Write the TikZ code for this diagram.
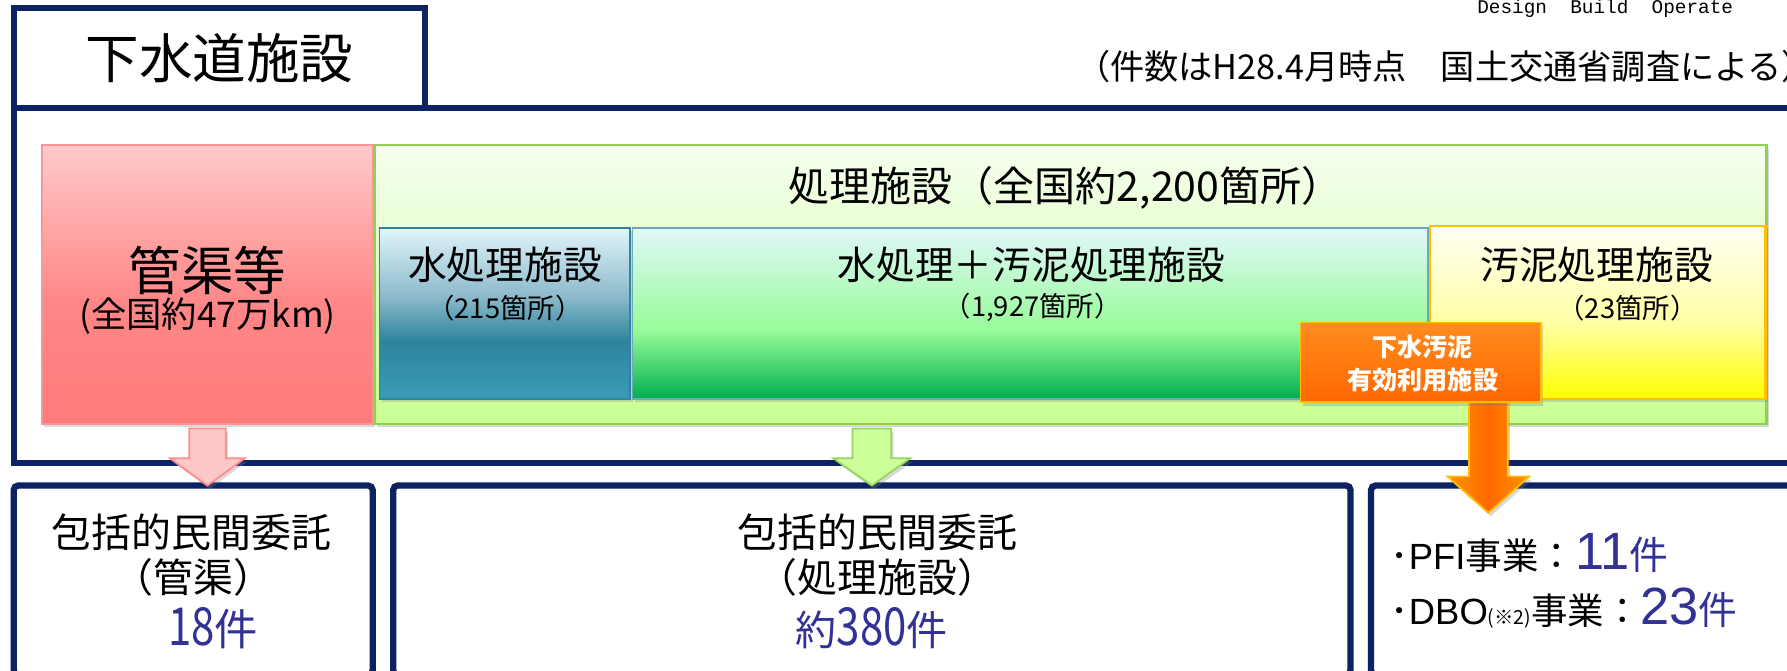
\documentclass[tikz,border=0pt]{standalone}
\usepackage{fontspec}
\setmainfont{Noto Sans CJK JP}
\newfontfamily\lat{Liberation Sans}
\newfontfamily\mono{Liberation Mono}
\usetikzlibrary{shadows,calc}
\definecolor{navy}{RGB}{12,34,98}
\definecolor{numblue}{RGB}{50,50,150}
\definecolor{pinkT}{RGB}{255,202,202}
\definecolor{pinkM}{RGB}{255,135,135}
\definecolor{pinkB}{RGB}{255,123,123}
\definecolor{pinkline}{RGB}{250,150,150}
\definecolor{lgT}{RGB}{246,255,240}
\definecolor{lgB}{RGB}{200,255,146}
\definecolor{lgline}{RGB}{146,208,80}
\definecolor{tealT}{RGB}{224,245,251}
\definecolor{tealU}{RGB}{140,186,203}
\definecolor{tealM}{RGB}{46,132,157}
\definecolor{tealB}{RGB}{58,155,184}
\definecolor{tealline}{RGB}{49,132,155}
\definecolor{grT}{RGB}{224,248,250}
\definecolor{grM}{RGB}{152,251,152}
\definecolor{grB}{RGB}{0,174,78}
\definecolor{ylT}{RGB}{255,255,245}
\definecolor{ylM}{RGB}{255,255,165}
\definecolor{ylB}{RGB}{255,255,0}
\definecolor{gold}{RGB}{255,192,0}
\definecolor{orT}{RGB}{255,140,30}
\definecolor{orB}{RGB}{255,104,0}
\definecolor{orEdge}{RGB}{255,150,0}
\definecolor{pinkArrow}{RGB}{255,200,200}
\definecolor{pinkArrowLine}{RGB}{255,140,140}
\definecolor{greenArrow}{RGB}{204,255,153}
\definecolor{greenArrowLine}{RGB}{150,212,90}
\pgfdeclareverticalshading{pinkshade}{100bp}{color(0bp)=(pinkB); color(25bp)=(pinkB); color(47bp)=(pinkM); color(75bp)=(pinkT); color(100bp)=(pinkT)}
\pgfdeclareverticalshading{tealshade}{100bp}{color(0bp)=(tealB); color(25bp)=(tealB); color(42bp)=(tealM); color(55bp)=(tealU); color(75bp)=(tealT); color(100bp)=(tealT)}
\pgfdeclareverticalshading{greenshade}{100bp}{color(0bp)=(grB); color(25bp)=(grB); color(45bp)=(grM); color(75bp)=(grT); color(100bp)=(grT)}
\pgfdeclareverticalshading{yellowshade}{100bp}{color(0bp)=(ylB); color(25bp)=(ylB); color(47bp)=(ylM); color(75bp)=(ylT); color(100bp)=(ylT)}
\tikzset{
  navybox/.style={draw=navy, line width=5.5pt, inner sep=0pt, outer sep=0pt, anchor=north west},
  roundbox/.style={navybox, rounded corners=4pt},
  panel/.style={inner sep=0pt, outer sep=0pt, anchor=north west},
  shadowed/.style={drop shadow={shadow xshift=2pt, shadow yshift=-3pt, opacity=0.3}},
  tsize/.style={font=\fontsize{#1}{#1}\selectfont, inner sep=0pt},
  blockarrow/.style={line width=1.5pt, line join=miter},
}
\newcommand{\cnum}[1]{\scalebox{0.8}[1]{\fontsize{46}{46}\selectfont #1}}
\begin{document}
\begin{tikzpicture}[x=1pt,y=-1pt]
\useasboundingbox (0,0) rectangle (1568,588);
\fill[white] (0,0) rectangle (1568,588);
\clip (0,0) rectangle (1568,588);

% header
\node[navybox, fill=white, minimum width=361pt, minimum height=87.5pt] (titlebox) at (12,7) {};
\node[tsize=47] (ttl) at (titlebox.center) {下水道施設};
\node[anchor=base west, inner sep=0pt, font=\mono\fontsize{17}{17}\selectfont] (dbo-note) at (1296,12) {Design~~Build~~Operate};
\node[anchor=west, tsize=30] (note) at (944,58) {（件数はH28.4月時点　国土交通省調査による）};

% main frame
\node[navybox, minimum width=1588pt, minimum height=312pt] (mainbox) at (12,94.5) {};

% panels
\node[panel, shade, shading=pinkshade, draw=pinkline, line width=1.5pt, shadowed, minimum width=290pt, minimum height=245pt] (kanbox) at (37,127) {};
\node[panel, top color=lgT, bottom color=lgB, draw=lgline, line width=2pt, shadowed, minimum width=1221pt, minimum height=245pt] (shori) at (329,127) {};
\node[panel, shade, shading=tealshade, draw=tealline, line width=1.5pt, shadowed, minimum width=220pt, minimum height=150pt] (mizu) at (333,200) {};
\node[panel, shade, shading=greenshade, draw=tealline!70, line width=1.5pt, shadowed, minimum width=698pt, minimum height=150pt] (mizuodei) at (555,200) {};
\node[panel, shade, shading=yellowshade, draw=gold, line width=2pt, shadowed, minimum width=294pt, minimum height=152pt] (odei) at (1255,198) {};

% panel texts
\node[tsize=46] (kan1) at (182,237) {管渠等};
\node[tsize=31] (kan2) at (182,277) {(全国約47万km)};
\node[tsize=36] (shori1) at (935,165) {処理施設（全国約2,200箇所）};
\node[tsize=34] (mizu1) at (443,232) {水処理施設};
\node[tsize=24] (mizu2) at (443,270) {（215箇所）};
\node[tsize=34] (mo1) at (905,232) {水処理＋汚泥処理施設};
\node[tsize=24] (mo2) at (906,270) {（1,927箇所）};
\node[tsize=34] (od1) at (1401,232) {汚泥処理施設};
\node[tsize=24] (od2) at (1428,270) {（23箇所）};

% bottom boxes
\node[roundbox, fill=white, minimum width=315pt, minimum height=166pt] (box1) at (12,426) {};
\node[roundbox, fill=white, minimum width=840pt, minimum height=166pt] (box2) at (345,426) {};
\node[roundbox, fill=white, minimum width=400pt, minimum height=166pt] (box3) at (1203,426) {};

% orange arrow (under the orange box)
\coordinate (oa) at ($(1352,353)+(-46,-6)$);
\path[blockarrow, left color=orEdge, right color=orEdge, middle color=orB, draw=gold, drop shadow={shadow xshift=2pt, shadow yshift=-3pt, opacity=0.3}]
  ($(oa)+(-17,0)$) -- ($(oa)+(17,0)$) -- ($(oa)+(17,71)$) -- ($(oa)+(36,71)$) -- ($(oa)+(0,103)$) -- ($(oa)+(-36,71)$) -- ($(oa)+(-17,71)$) -- cycle;

% orange box
\node[panel, top color=orT, bottom color=orB, draw=gold, line width=1.5pt, shadowed, minimum width=211pt, minimum height=70pt] (yuko) at (1141,283) {};
\node[font=\bfseries\fontsize{22}{29}\selectfont, text=white, align=center, inner sep=0pt] (yukotxt) at ($(yuko.center)+(2,1)$) {下水汚泥\\有効利用施設};

% pink and green arrows
\coordinate (pa) at (kanbox.south);
\path[blockarrow, fill=pinkArrow, draw=pinkArrowLine, drop shadow={shadow xshift=2pt, shadow yshift=-3pt, opacity=0.3}]
  ($(pa)+(-16,4)$) -- ($(pa)+(16,4)$) -- ($(pa)+(16,30)$) -- ($(pa)+(33,30)$) -- ($(pa)+(0,54)$) -- ($(pa)+(-33,30)$) -- ($(pa)+(-16,30)$) -- cycle;
\coordinate (ga) at (box2.north |- shori.south);
\path[blockarrow, fill=greenArrow, draw=greenArrowLine, drop shadow={shadow xshift=2pt, shadow yshift=-3pt, opacity=0.3}]
  ($(ga)+(-17,4)$) -- ($(ga)+(17,4)$) -- ($(ga)+(17,30)$) -- ($(ga)+(34,30)$) -- ($(ga)+(0,54)$) -- ($(ga)+(-34,30)$) -- ($(ga)+(-17,30)$) -- cycle;

% bottom texts
\node[tsize=35] (b1a) at (168,467) {包括的民間委託};
\node[tsize=35] (b1b) at (170,507) {（管渠）};
\node[inner sep=0pt, text=numblue, font=\fontsize{38}{38}\selectfont] (b1c) at (187,551) {\cnum{18}件};
\node[tsize=35] (b2a) at (770,467) {包括的民間委託};
\node[tsize=35] (b2b) at (770,507) {（処理施設）};
\node[inner sep=0pt, text=numblue, font=\fontsize{36}{36}\selectfont] (b2c) at (765,551) {約\cnum{380}件};
\node[anchor=base west, inner sep=0pt, font=\fontsize{32}{32}\selectfont] (pfi) at (1220,500)
  {･{\lat PFI}事業：\textcolor{numblue}{{\lat\fontsize{46}{46}\selectfont 11}\fontsize{34}{34}\selectfont 件}};
\node[anchor=base west, inner sep=0pt, font=\fontsize{32}{32}\selectfont] (dbo) at (1220,548)
  {･{\lat DBO}{\fontsize{17}{17}\selectfont (※2)}事業：\textcolor{numblue}{{\lat\fontsize{46}{46}\selectfont 23}\fontsize{34}{34}\selectfont 件}};
\end{tikzpicture}
\end{document}
